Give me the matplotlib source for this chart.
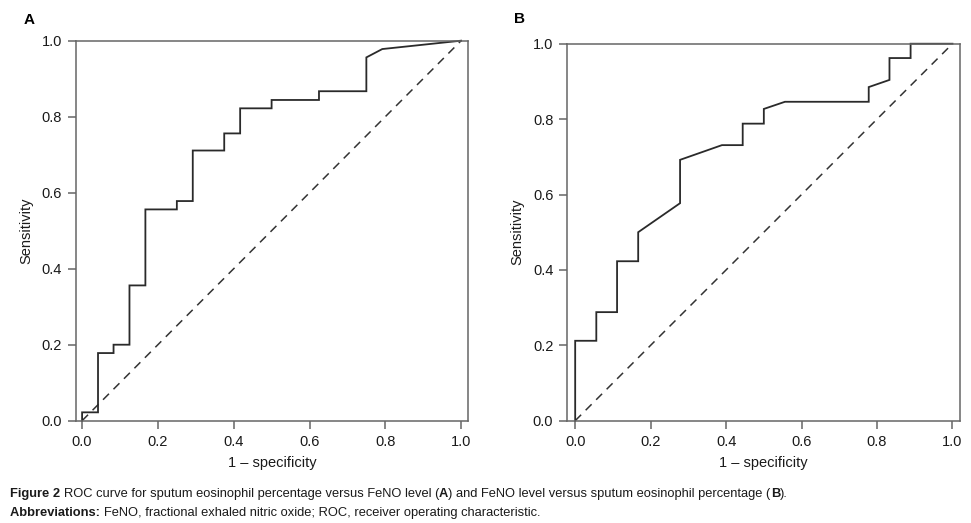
import matplotlib
matplotlib.use("Agg")
import matplotlib.pyplot as plt
from matplotlib.text import Annotation

# ROC points (1 - specificity, sensitivity)
fpr_a = [0, 0, 0.042, 0.042, 0.083, 0.083, 0.125, 0.125, 0.167, 0.167, 0.25, 0.25,
         0.292, 0.292, 0.375, 0.375, 0.417, 0.417, 0.5, 0.5, 0.625, 0.625, 0.75, 0.75,
         0.792, 1.0]
tpr_a = [0, 0.022, 0.022, 0.178, 0.178, 0.2, 0.2, 0.356, 0.356, 0.556, 0.556, 0.578,
         0.578, 0.711, 0.711, 0.756, 0.756, 0.822, 0.822, 0.844, 0.844, 0.867, 0.867,
         0.956, 0.978, 1.0]

fpr_b = [0, 0, 0.056, 0.056, 0.111, 0.111, 0.167, 0.167, 0.278, 0.278, 0.389, 0.444,
         0.444, 0.5, 0.5, 0.556, 0.778, 0.778, 0.833, 0.833, 0.889, 0.889, 1.0]
tpr_b = [0, 0.212, 0.212, 0.288, 0.288, 0.423, 0.423, 0.5, 0.577, 0.692, 0.731, 0.731,
         0.788, 0.788, 0.827, 0.846, 0.846, 0.885, 0.904, 0.962, 0.962, 1.0, 1.0]

ref_line = [0, 1]
ticks = [0.0, 0.2, 0.4, 0.6, 0.8, 1.0]
tick_labels = ["0.0", "0.2", "0.4", "0.6", "0.8", "1.0"]

plt.rcParams['font.family'] = 'sans-serif'
plt.rcParams['font.sans-serif'] = ['Liberation Sans', 'DejaVu Sans']

fig = plt.figure(figsize=(9.71, 5.23), dpi=100)

ax_a = fig.add_axes([0.0783, 0.1956, 0.4040, 0.7266])
ax_b = fig.add_axes([0.5842, 0.1956, 0.4045, 0.7208])


def style_axes(ax, fpr, tpr, xlim):
    ax.plot(ref_line, ref_line, color='#333333', lw=1.1, linestyle=(0, (5.5, 4.2)))
    ax.plot(fpr, tpr, color='#2a2a2a', lw=1.3, solid_joinstyle='miter', clip_on=False)
    ax.set_xlim(xlim)
    ax.set_ylim(0, 1)
    ax.set_xticks(ticks)
    ax.set_xticklabels(tick_labels)
    ax.set_yticks(ticks)
    ax.set_yticklabels(tick_labels)
    for s in ax.spines.values():
        s.set_color('#666666')
        s.set_linewidth(1.1)
    ax.tick_params(direction='out', length=6, width=1.1, color='#666666',
                   labelsize=10.5, labelcolor='#1a1a1a', pad=4)
    ax.set_xlabel('1 \u2013 specificity', fontsize=10.5, color='#1a1a1a', labelpad=5)
    ax.set_ylabel('Sensitivity', fontsize=10.5, color='#1a1a1a', labelpad=6)


style_axes(ax_a, fpr_a, tpr_a, (-0.016, 1.019))
style_axes(ax_b, fpr_b, tpr_b, (-0.021, 1.020))

fig.text(29 / 971, 1 - 19.5 / 523, 'A', fontsize=11, fontweight='bold', ha='center', va='center')
fig.text(519 / 971, 1 - 19 / 523, 'B', fontsize=11, fontweight='bold', ha='center', va='center')

# caption with bold lead-ins, pieces placed one after another
cap_size = 9.25


def place_line(x_px, y_px, pieces):
    last = None
    for txt, w in pieces:
        if last is None:
            last = fig.text(x_px / 971, 1 - y_px / 523, txt, fontsize=cap_size,
                            fontweight=w, va='baseline', color='#1a1a1a')
        else:
            last = fig.add_artist(Annotation(
                txt, xy=(1, 0), xycoords=last, va='bottom', ha='left',
                fontsize=cap_size, fontweight=w, color='#1a1a1a'))
    return last


place_line(10, 497, [('Figure 2 ', 'bold'),
                     ('ROC curve for sputum eosinophil percentage versus FeNO level (', 'normal'),
                     ('A', 'bold'),
                     (') and FeNO level versus sputum eosinophil percentage (', 'normal'),
                     ('B', 'bold'),
                     (').', 'normal')])
place_line(10, 516, [('Abbreviations: ', 'bold'),
                     ('FeNO, fractional exhaled nitric oxide; ROC, receiver operating characteristic.', 'normal')])

fig.savefig('out.png', dpi=100)
